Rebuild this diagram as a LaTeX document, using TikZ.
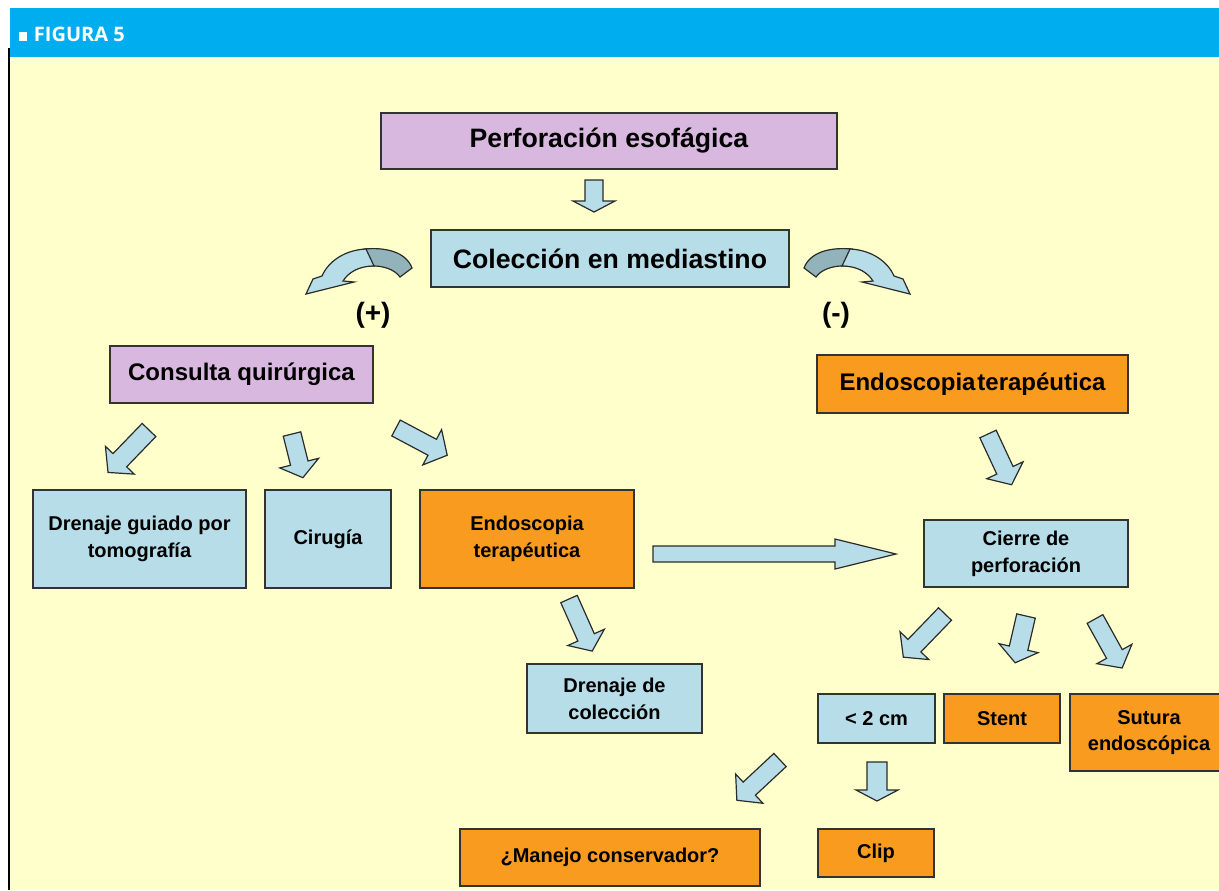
\documentclass[tikz,border=0pt]{standalone}
\usepackage{fontspec}
\setmainfont{Liberation Sans}
\newfontfamily\hdrfont{Open Sans}
\definecolor{bgyellow}{HTML}{FFFFCC}
\definecolor{hdrblue}{HTML}{00ADEF}
\definecolor{boxpurple}{HTML}{D9B8E0}
\definecolor{boxblue}{HTML}{B7DDE8}
\definecolor{boxorange}{HTML}{F99B1E}
\definecolor{boxline}{HTML}{333333}
\definecolor{arrowline}{HTML}{2B2B2B}
\definecolor{darkband}{HTML}{93B3BA}
\tikzset{
  box/.style={draw=boxline, line width=0.8pt, inner sep=2pt, align=center, text=black},
  bigtxt/.style={box, font=\bfseries\fontsize{20}{24}\selectfont},
  medtxt/.style={box, font=\bfseries\fontsize{18}{22}\selectfont},
  smalltxt/.style={box, font=\bfseries\fontsize{15}{20}\selectfont},
  purplebox/.style={fill=boxpurple},
  bluebox/.style={fill=boxblue},
  orangebox/.style={fill=boxorange},
  signlabel/.style={font=\bfseries\fontsize{21}{24}\selectfont, inner sep=0pt},
  arrowsty/.style={draw=arrowline, fill=boxblue, line width=0.9pt, line join=miter},
  pics/barrow/.style n args={4}{code={%
    \draw[arrowsty] (0,-#2) -- ({#1-#4},-#2) -- ({#1-#4},-#3) -- (#1,0) -- ({#1-#4},#3) -- ({#1-#4},#2) -- (0,#2) -- cycle;}}
}
\newcommand\mkbox[7]{\node[#6, minimum width={(#4-#2)*0.75pt}, minimum height={(#5-#3)*0.75pt}] (#1) at ({(#2+#4)/2},{(#3+#5)/2}) {#7};}
\newcommand\curvedarrowpaths{%
  \draw[arrowsty, fill=darkband] (412,268) .. controls (406,252) and (386,247) .. (364,249) -- (368,266) .. controls (384,265) and (395,270) .. (400,277) -- cycle;
  \draw[arrowsty] (366,249) .. controls (344,250) and (328,262) .. (322,276) -- (313,279) -- (306,294) -- (354,282) -- (343,281) .. controls (348,273) and (358,266) .. (374,266) -- cycle;
}
\begin{document}
\begin{tikzpicture}[x=0.75pt,y=-0.75pt]
\useasboundingbox (0,0) rectangle (1219,890);
\fill[white] (0,0) rectangle (1219,890);
\fill[bgyellow] (10,57) rectangle (1219,890);
\fill[hdrblue] (10,8) rectangle (1219,57);
\draw[black, line width=1.1pt] (9,48) -- (9,890);
\node[anchor=base west, inner sep=0pt, text=white, font=\hdrfont\bfseries\fontsize{15}{17}\selectfont] (hdr) at (19,41) {\rule{6pt}{6.5pt}\hspace{5pt}FIGURA 5};

% boxes
\mkbox{perf}{381}{113}{837}{169}{bigtxt,purplebox}{Perforación esofágica}
\mkbox{col}{431}{230}{789}{287}{bigtxt,bluebox}{Colección en mediastino}
\mkbox{cons}{110}{346}{373}{403}{medtxt,purplebox}{Consulta quirúrgica}
\mkbox{endR}{817}{355}{1128}{413}{medtxt,orangebox}{{\spaceskip=0.08em Endoscopia terapéutica}}
\mkbox{dren}{33}{490}{246}{588}{smalltxt,bluebox}{Drenaje guiado por\\tomografía}
\mkbox{cir}{265}{490}{391}{588}{smalltxt,bluebox}{Cirugía}
\mkbox{endM}{420}{490}{634}{588}{smalltxt,orangebox}{Endoscopia\\terapéutica}
\mkbox{cier}{924}{520}{1128}{587}{smalltxt,bluebox}{Cierre de\\perforación}
\mkbox{drcol}{527}{664}{702}{733}{smalltxt,bluebox}{Drenaje de\\colección}
\mkbox{lt}{818}{694}{935}{743}{smalltxt,bluebox}{< 2 cm}
\mkbox{stent}{944}{694}{1060}{743}{smalltxt,orangebox}{Stent}
\mkbox{sut}{1070}{694}{1228}{771}{smalltxt,orangebox}{Sutura\\endoscópica}
\mkbox{man}{460}{829}{760}{886}{smalltxt,orangebox}{¿Manejo conservador?}
\mkbox{clip}{818}{829}{934}{877}{smalltxt,orangebox}{Clip}

% signs
\node[signlabel] (plus) at (373,315) {(+)};
\node[signlabel] (minus) at (836,315) {(-)};

% curved arrows
\begin{scope}
\curvedarrowpaths
\end{scope}
\begin{scope}[shift={(1216,0)}, xscale=-1]
\curvedarrowpaths
\end{scope}

% block arrows
\pic[rotate=270] at (594,180) {barrow={32}{9}{21}{11}};
\pic[rotate=226] at (149,430) {barrow={59}{9.5}{20}{17}};
\pic[rotate=284] at (292,434) {barrow={45}{9}{20}{15}};
\pic[rotate=332] at (396,428) {barrow={58}{9}{20}{17}};
\pic[rotate=295] at (988,434) {barrow={56}{9}{20}{16}};
\pic[rotate=294] at (569,599) {barrow={57}{9}{20}{15}};
\pic[rotate=226] at (945,614) {barrow={60}{9}{20}{16}};
\pic[rotate=257] at (1026,616) {barrow={48}{9.5}{20}{15}};
\pic[rotate=299] at (1095,619) {barrow={56}{9}{20}{16}};
\pic[rotate=223] at (780,760) {barrow={59}{9}{20}{17}};
\pic[rotate=270] at (877,762) {barrow={39}{10}{21}{11}};
\pic[rotate=0] at (653,554) {barrow={243}{8}{15}{61}};
\end{tikzpicture}
\end{document}
